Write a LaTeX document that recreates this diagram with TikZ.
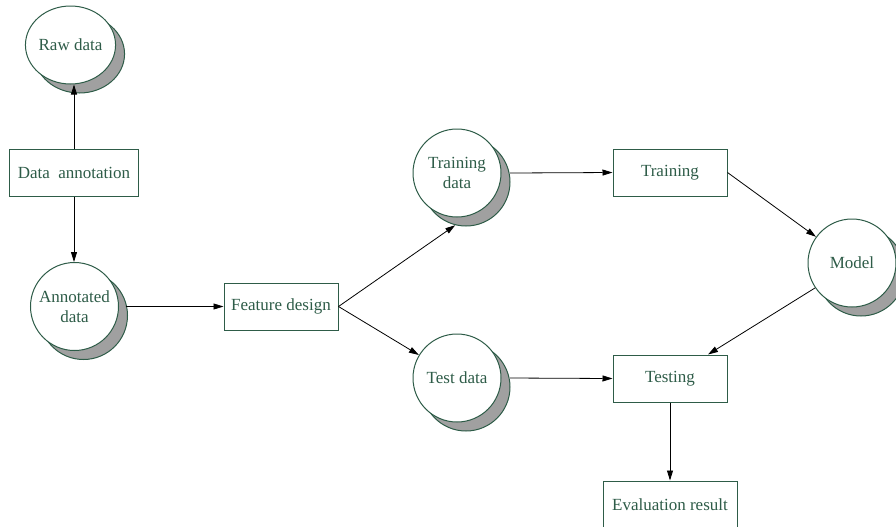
\documentclass[tikz,border=0pt]{standalone}
\usepackage{fontspec}
\setmainfont{Liberation Serif}
\usetikzlibrary{arrows.meta,shadows,shapes.geometric}
\definecolor{dg}{RGB}{46,92,72}
\definecolor{sg}{RGB}{160,160,160}
\begin{document}
\begin{tikzpicture}[x=0.75pt,y=-0.75pt,
  every node/.style={font=\fontsize{12.75}{15}\selectfont, text=dg},
  box/.style={draw=dg, line width=0.75pt, fill=white, minimum height=35.25pt, minimum width=85.5pt, inner sep=0pt},
  blob/.style={circle, draw=dg, line width=0.75pt, fill=white, minimum size=66pt, inner sep=0pt, align=center,
     general shadow={shadow xshift=6.75pt, shadow yshift=-6.75pt, fill=sg, draw=dg, line width=0.75pt}},
  arr/.style={-{Triangle[length=7.5pt,width=4.5pt]}, black, line width=0.6pt}
]
\useasboundingbox (0,0) rectangle (896,526);
\clip (0,0) rectangle (896,526);

% circles
\node[blob, ellipse, minimum width=54pt, minimum height=58.5pt] (raw) at (70.5,45) {Raw data};
\node[blob] (annot) at (74.5,306.5) {Annotated\\data};
\node[blob] (trdata) at (457,173) {Training\\data};
\node[blob] (tsdata) at (457,378) {Test data};
\node[blob] (model) at (852,263) {Model};

% boxes
\node[box, minimum width=96.75pt] (datann) at (74,172.5) {Data\ \ annotation};
\node[box] (feat) at (281,306.5) {Feature design};
\node[box] (train) at (670,172.5) {Training};
\node[box] (test) at (670,378.5) {Testing};
\node[box, minimum width=100.5pt] (eval) at (670,504.5) {Evaluation result};

% connectors
\draw[arr] (datann.north) -- (datann.north |- raw.south);
\draw[arr] (datann.south) -- (datann.south |- annot.north);
\draw[arr] ([xshift=5pt]annot.east) -- (feat.west);
\draw[arr] (feat.east) -- ([shift={(6.75pt,-6.75pt)}]trdata.256);
\draw[arr] (feat.east) -- (tsdata);
\draw[arr] ([xshift=6.5pt]trdata.east) -- (train.west);
\draw[arr] ([xshift=6.5pt]tsdata.east) -- (test.west);
\draw[arr] (train.east) -- (model);
\draw[arr] (model.214) -- ([xshift=28.5pt]test.north);
\draw[arr] (test.south) -- (eval.north);
\end{tikzpicture}
\end{document}
